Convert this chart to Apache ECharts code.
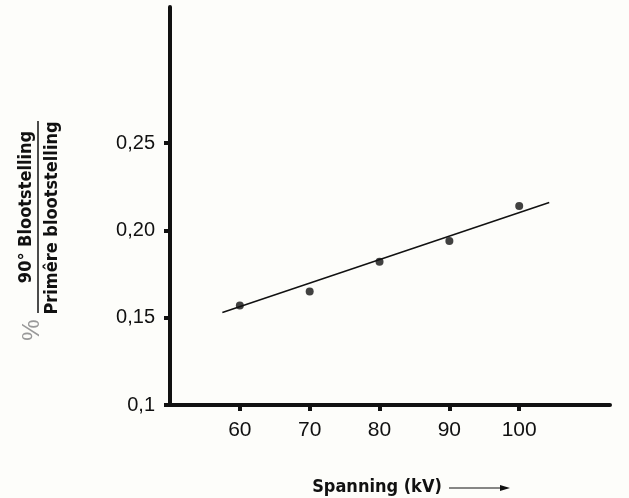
<!DOCTYPE html>
<html>
<head>
<meta charset="utf-8">
<script src="https://cdn.jsdelivr.net/npm/echarts@6/dist/echarts.min.js"></script>
<style>
  html, body { margin: 0; padding: 0; background: #fdfdfa; }
  #chart { width: 629px; height: 498px; }
</style>
</head>
<body>
<div id="chart"></div>
<script>
// measured points
const voltages = [60, 70, 80, 90, 100];
const ratios = [0.157, 0.165, 0.182, 0.194, 0.214];
// fitted line end points
const fitX = [57.5, 104.3];
const fitY = [0.153, 0.216];
// tick values and labels
const xTicks = [60, 70, 80, 90, 100];
const yTicks = [0.1, 0.15, 0.2, 0.25];
const yTickLabels = ['0,1', '0,15', '0,20', '0,25'];

const chart = echarts.init(document.getElementById('chart'));
const labelFont = 'Liberation Sans, Arial, sans-serif';
const titleFont = '"Liberation Sans Narrow", "DejaVu Sans Condensed", sans-serif';

let option = {
  backgroundColor: '#fdfdfa',
  animation: false,
  grid: { left: 170, right: 19, top: 7, bottom: 93 },
  xAxis: {
    type: 'value',
    min: 50,
    max: 113,
    axisLine: { lineStyle: { color: '#111', width: 4 } },
    axisTick: { show: true, customValues: xTicks, length: 6, lineStyle: { color: '#111', width: 4 } },
    axisLabel: {
      customValues: xTicks, margin: 15,
      color: '#111', fontSize: 21, fontFamily: labelFont
    },
    splitLine: { show: false }
  },
  yAxis: {
    type: 'value',
    min: 0.1,
    max: 0.328,
    axisLine: { show: true, lineStyle: { color: '#111', width: 4 } },
    axisTick: { show: true, customValues: yTicks, length: 6, lineStyle: { color: '#111', width: 4 } },
    axisLabel: {
      customValues: yTicks, margin: 15,
      color: '#111', fontSize: 20, fontFamily: labelFont,
      formatter: function (v) {
        const i = yTicks.findIndex(t => Math.abs(t - v) < 1e-6);
        return i >= 0 ? yTickLabels[i] : '';
      }
    },
    splitLine: { show: false }
  },
  series: [
    {
      type: 'line',
      data: fitX.map((x, i) => [x, fitY[i]]),
      symbol: 'none',
      lineStyle: { color: '#111', width: 1.5 },
      z: 2
    },
    {
      type: 'scatter',
      data: voltages.map((x, i) => [x, ratios[i]]),
      symbolSize: 8,
      itemStyle: { color: '#111' },
      z: 3
    }
  ],
  graphic: [
    {
      type: 'text', x: 26, y: 207, rotation: Math.PI / 2,
      style: {
        text: '90° Blootstelling', fill: '#111', font: 'bold 18px ' + titleFont,
        align: 'center', verticalAlign: 'middle'
      }
    },
    {
      type: 'line',
      shape: { x1: 38, y1: 121, x2: 38, y2: 313 },
      style: { stroke: '#111', lineWidth: 1.5 }
    },
    {
      type: 'text', x: 52, y: 218, rotation: Math.PI / 2,
      style: {
        text: 'Primêre blootstelling', fill: '#111', font: 'bold 18px ' + titleFont,
        align: 'center', verticalAlign: 'middle'
      }
    },
    {
      type: 'text', x: 32, y: 330, rotation: Math.PI / 2,
      style: {
        text: '%', fill: '#999', font: '24px ' + labelFont,
        align: 'center', verticalAlign: 'middle'
      }
    },
    {
      type: 'text', x: 377, y: 487,
      style: {
        text: 'Spanning (kV)', fill: '#111', font: 'bold 18px ' + titleFont,
        align: 'center', verticalAlign: 'middle'
      }
    },
    {
      type: 'line',
      shape: { x1: 449, y1: 488, x2: 505, y2: 488 },
      style: { stroke: '#111', lineWidth: 1 }
    },
    {
      type: 'polygon',
      shape: { points: [[510, 488], [500, 485], [500, 491]] },
      style: { fill: '#111' }
    }
  ]
};
chart.setOption(option);
</script>
</body>
</html>
